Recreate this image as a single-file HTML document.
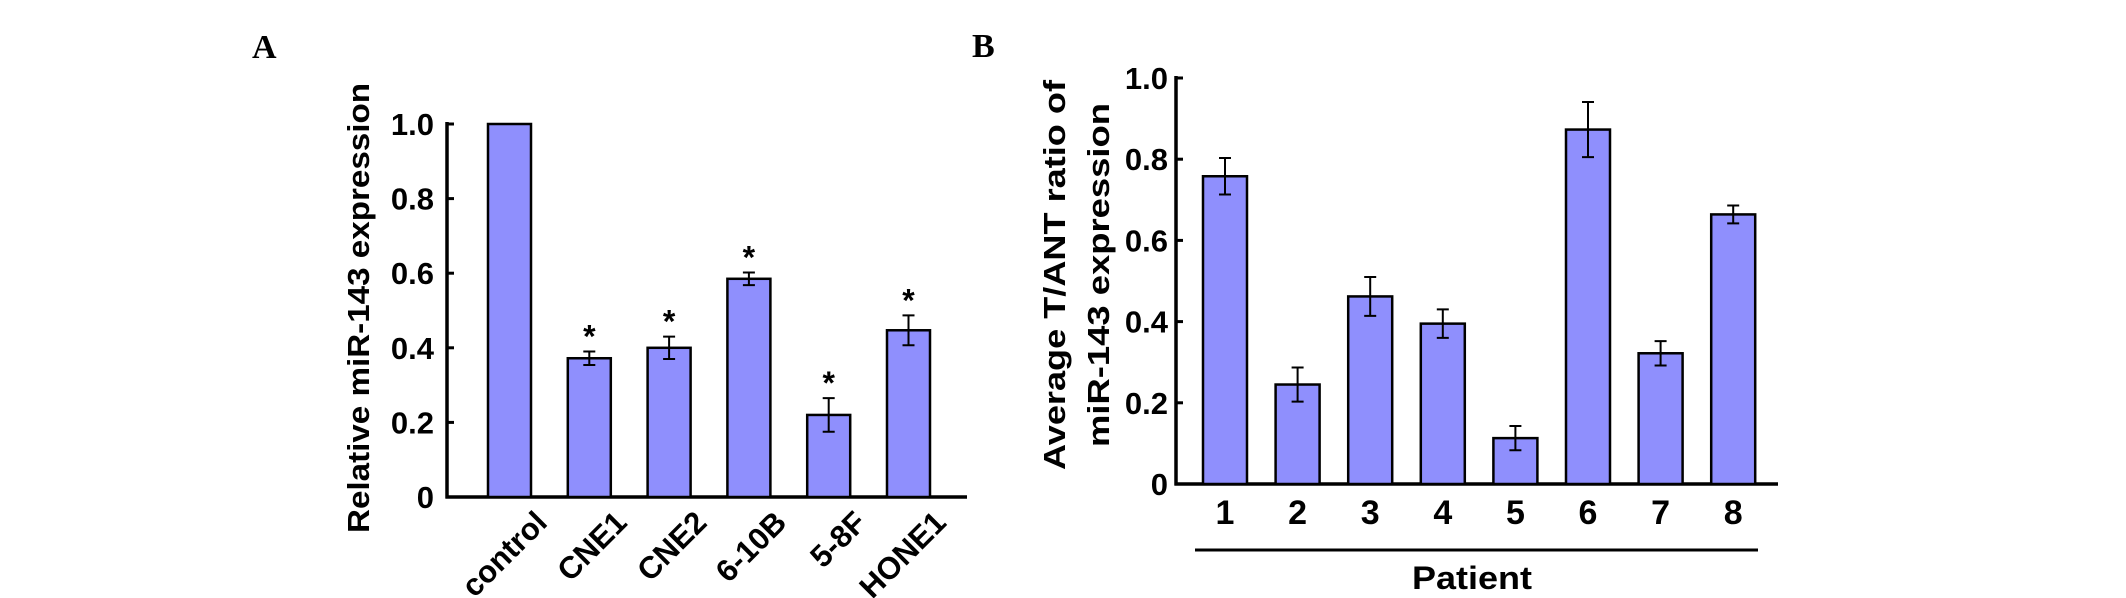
<!DOCTYPE html>
<html><head><meta charset="utf-8"><style>
body{margin:0;background:#fff;}
svg{display:block;font-family:"Liberation Sans",Arial,sans-serif;font-weight:bold;}
</style></head><body>
<svg id="fig" width="2126" height="598" viewBox="0 0 2126 598">
<text x="252" y="58" font-family="Liberation Serif" font-size="34">A</text>
<text x="972" y="57" font-family="Liberation Serif" font-size="34">B</text>
<g id="ga"></g>
<g id="gb"></g>
</svg>
<script>
const catsA=["control","CNE1","CNE2","6-10B","5-8F","HONE1"];
const valsA=[1.0,0.372,0.40,0.585,0.22,0.447];
const errA=[0,0.018,0.03,0.017,0.045,0.04];
const starA=[false,true,true,true,true,true];
const catsB=["1","2","3","4","5","6","7","8"];
const valsB=[0.758,0.245,0.462,0.395,0.113,0.873,0.322,0.664];
const errB=[0.045,0.042,0.048,0.035,0.03,0.068,0.03,0.022];
const ticks=[0,0.2,0.4,0.6,0.8,1.0];
const tickLabels=["0","0.2","0.4","0.6","0.8","1.0"];
const NS="http://www.w3.org/2000/svg";
function mk(p,t,a,txt){const e=document.createElementNS(NS,t);for(const k in a)e.setAttribute(k,a[k]);if(txt!==undefined)e.textContent=txt;p.appendChild(e);return e;}
function chart(g,o){
  const y=v=>o.y0-v*(o.y0-o.y1);
  const x=i=>o.bx0+i*o.step;
  let ax=mk(g,'line',{x1:o.ax,y1:y(1)-2,x2:o.ax,y2:o.y0+1.5,stroke:'#000','stroke-width':3.5});
  
  
  let xl=mk(g,'line',{x1:o.ax-1.5,y1:o.y0,x2:o.axEnd,y2:o.y0,stroke:'#000','stroke-width':3.5});
  
  
  ticks.forEach((t,i)=>{
    if(t>0){let tk=mk(g,'line',{x1:o.ax,y1:y(t),x2:o.ax+7,y2:y(t),stroke:'#000','stroke-width':3});
    
    }
    let tl=mk(g,'text',{x:o.tlx,y:y(t)+11,'text-anchor':'end','font-size':31},tickLabels[i]);
    
    
  });
  o.vals.forEach((v,i)=>{
    const bx=x(i),by=y(v);
    let r=mk(g,'rect',{x:bx,y:by,width:o.bw,height:o.y0-by,fill:'#8f8ffd',stroke:'#000','stroke-width':2.5});
    
    
    const cx=bx+o.bw/2,e=o.err[i];
    if(e>0){
      const t=y(v+e),b=y(v-e);
      let eb=mk(g,'path',{d:`M${cx},${t}V${b}M${cx-6},${t}H${cx+6}M${cx-6},${b}H${cx+6}`,stroke:'#000','stroke-width':2,fill:'none'});
      
      
    }
    if(o.star&&o.star[i]){
      let s=mk(g,'text',{x:cx,y:y(v+e)-4,'text-anchor':'middle','font-size':32},'*');
      
      
    }
    let lab;
    if(o.rot){
      const lx=cx+24,ly=o.y0+12;
      lab=mk(g,'text',{x:lx,y:ly,'text-anchor':'end','font-size':31,transform:`rotate(-45 ${lx} ${ly})`,dy:'0.7em'},o.cats[i]);
    }else{
      lab=mk(g,'text',{x:cx,y:o.y0+40,'text-anchor':'middle','font-size':34},o.cats[i]);
    }
    
    
  });
}
chart(document.getElementById('ga'),{y0:497,y1:124,ax:447,axEnd:967,bx0:488,step:79.8,bw:43,tlx:434,vals:valsA,err:errA,cats:catsA,star:starA,rot:true});
chart(document.getElementById('gb'),{y0:484,y1:78,ax:1176,axEnd:1778,bx0:1203,step:72.6,bw:44,tlx:1168,vals:valsB,err:errB,cats:catsB,rot:false});
const ga=document.getElementById('ga'),gb=document.getElementById('gb');
let t1=mk(ga,'text',{x:0,y:0,'text-anchor':'middle','font-size':31,textLength:450,lengthAdjust:'spacingAndGlyphs',transform:'translate(369 308) rotate(-90)'},'Relative miR-143 expression');


let t2=mk(gb,'text',{x:0,y:0,'text-anchor':'middle','font-size':31,textLength:390,lengthAdjust:'spacingAndGlyphs',transform:'translate(1065 275) rotate(-90)'},'Average T/ANT ratio of');


let t3=mk(gb,'text',{x:0,y:0,'text-anchor':'middle','font-size':31,textLength:344,lengthAdjust:'spacingAndGlyphs',transform:'translate(1109 275) rotate(-90)'},'miR-143 expression');


let pl=mk(gb,'line',{x1:1195,y1:550,x2:1758,y2:550,stroke:'#000','stroke-width':3});


let pt=mk(gb,'text',{x:1472,y:589,'text-anchor':'middle','font-size':32,textLength:120,lengthAdjust:'spacingAndGlyphs'},'Patient');


</script>
</body></html>
